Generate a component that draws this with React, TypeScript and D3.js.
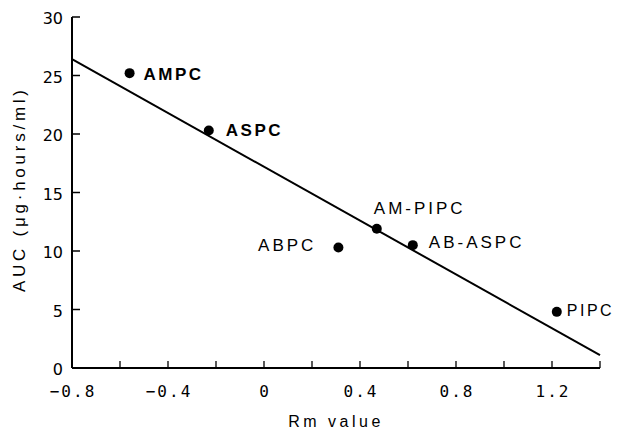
import React from "react";
import { scaleLinear, line } from "d3";

// drug points: Rm value vs AUC
const drugNames = ["AMPC", "ASPC", "ABPC", "AM-PIPC", "AB-ASPC", "PIPC"];
const rmValues = [-0.56, -0.23, 0.31, 0.47, 0.62, 1.22];
const aucValues = [25.2, 20.3, 10.3, 11.9, 10.5, 4.8];
const boldNames = ["AMPC", "ASPC"];

// regression line end points
const fitRm = [-0.8, 1.4];
const fitAuc = [26.4, 1.1];

const xTicks = [-0.8, -0.4, 0, 0.4, 0.8, 1.2];
const xMinorTicks = [-0.6, -0.4, -0.2, 0, 0.2, 0.4, 0.6, 0.8, 1.0, 1.2, 1.4];
const yTicks = [0, 5, 10, 15, 20, 25, 30];

const W = 618;
const H = 430;

const fmtX = (v: number) => (v < 0 ? "\u2212" : "") + Math.abs(v).toString();

// label offsets relative to the dot: dx, dy, anchor, font size, letter spacing
const labelPos: Record<string, [number, number, string, number, number]> = {
  AMPC: [14, 7, "start", 17, 2.5],
  ASPC: [17, 6, "start", 17, 2.5],
  ABPC: [-22, 4, "end", 17, 3],
  "AM-PIPC": [-3, -15, "start", 17, 3],
  "AB-ASPC": [16, 3, "start", 17, 3],
  PIPC: [10, 4, "start", 16, 2.5],
};

export default function App() {
  const x = scaleLinear().domain([-0.8, 1.4]).range([72, 600]);
  const y = scaleLinear().domain([0, 30]).range([368, 17]);

  const fit = line<number>()
    .x((d) => x(fitRm[d]))
    .y((d) => y(fitAuc[d]));

  const monoFont = "'DejaVu Sans Mono', monospace";
  const sansFont = "'Liberation Sans', Arial, sans-serif";

  return (
    <svg
      width={W}
      height={H}
      style={{ position: "absolute", left: 0, top: 0, background: "#fff" }}
    >
      {/* axes */}
      <line x1={x(-0.8)} x2={x(-0.8)} y1={y(30)} y2={y(0)} stroke="#000" strokeWidth={2} />
      <line x1={x(-0.8)} x2={x(1.4)} y1={y(0)} y2={y(0)} stroke="#000" strokeWidth={2} />

      {yTicks.map((t) => (
        <g key={"y" + t}>
          {t > 0 && (
            <line x1={x(-0.8)} x2={x(-0.8) + 8} y1={y(t)} y2={y(t)} stroke="#000" strokeWidth={1.5} />
          )}
          <text
            x={63}
            y={y(t) + 7}
            textAnchor="end"
            fontFamily="'DejaVu Sans', sans-serif"
            fontSize={16}
          >
            {t}
          </text>
        </g>
      ))}

      {xMinorTicks.map((t) => (
        <line key={"xt" + t} x1={x(t)} x2={x(t)} y1={y(0)} y2={y(0) - 7} stroke="#000" strokeWidth={1.3} />
      ))}
      {xTicks.map((t) => (
        <text
          key={"xl" + t}
          x={x(t) + 1}
          y={397}
          textAnchor="middle"
          fontFamily={monoFont}
          fontSize={16}
          letterSpacing={2}
        >
          {fmtX(t)}
        </text>
      ))}

      {/* axis titles */}
      <text x={336} y={427} textAnchor="middle" fontFamily={sansFont} fontSize={16} letterSpacing={3.5}>
        Rm value
      </text>
      <text
        transform={`translate(25,191) rotate(-90)`}
        textAnchor="middle"
        fontFamily={sansFont}
        fontSize={17}
        textLength={202}
        lengthAdjust="spacing"
      >
        AUC (μg·hours/ml)
      </text>

      {/* regression line */}
      <path d={fit([0, 1]) || ""} fill="none" stroke="#000" strokeWidth={2} />

      {/* points */}
      {drugNames.map((n, i) => {
        const cx = x(rmValues[i]);
        const cy = y(aucValues[i]);
        const [dx, dy, anchor, fs, ls] = labelPos[n];
        const bold = boldNames.includes(n);
        return (
          <g key={n}>
            <circle cx={cx} cy={cy} r={5} fill="#000" />
            <text
              x={cx + dx}
              y={cy + dy}
              textAnchor={anchor as any}
              fontFamily={sansFont}
              fontSize={fs}
              fontWeight={bold ? "bold" : "normal"}
              letterSpacing={ls}
            >
              {n}
            </text>
          </g>
        );
      })}
    </svg>
  );
}
